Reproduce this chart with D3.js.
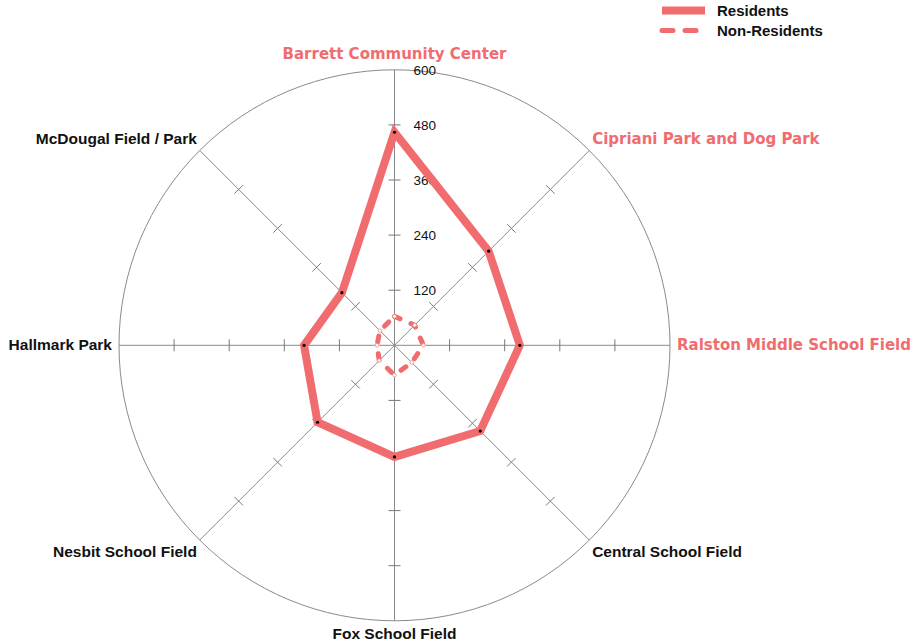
<!DOCTYPE html>
<html>
<head>
<meta charset="utf-8">
<script src="https://cdn.jsdelivr.net/npm/d3@7"></script>
<style>
  body { margin: 0; background: #fff; }
</style>
</head>
<body>
<script>
// #Data
const parks = ['Barrett Community Center', 'Cipriani Park and Dog Park', 'Ralston Middle School Field',
               'Central School Field', 'Fox School Field', 'Nesbit School Field', 'Hallmark Park',
               'McDougal Field / Park'];
const highlighted = ['Barrett Community Center', 'Cipriani Park and Dog Park', 'Ralston Middle School Field'];
const residents = [464, 290, 273, 264, 243, 237, 197, 162];
const nonResidents = [63, 62, 63, 53, 65, 47, 38, 45];
const tickValues = [120, 240, 360, 480, 600];
const seriesNames = ['Residents', 'Non-Residents'];

// #Define SVG
const width = 917, height = 644;
const cx = 394.5, cy = 345.3, R = 275.5;
const red = '#f06c6e';

const svg = d3.select('body')
              .append('svg')
              .attr('width', width)
              .attr('height', height);

const rScale = d3.scaleLinear().domain([0, 600]).range([0, R]);
const angle = d3.scaleLinear().domain([0, parks.length]).range([0, 2 * Math.PI]);

const px = (i, v) => cx + rScale(v) * Math.sin(angle(i));
const py = (i, v) => cy - rScale(v) * Math.cos(angle(i));

const g = svg.append('g');

// #Outer circle
g.append('circle')
 .attr('cx', cx).attr('cy', cy).attr('r', rScale(600))
 .attr('fill', 'none').attr('stroke', '#8a8a8a').attr('stroke-width', 1);

// #Axes
g.selectAll('.axis')
 .data(parks)
 .enter()
 .append('line')
 .attr('class', 'axis')
 .attr('x1', cx).attr('y1', cy)
 .attr('x2', (d, i) => px(i, 600))
 .attr('y2', (d, i) => py(i, 600))
 .attr('stroke', '#8a8a8a').attr('stroke-width', 1);

// #Tick marks across each axis
const tickPairs = [];
parks.forEach((p, i) => tickValues.slice(0, -1).forEach(t => tickPairs.push({i, t})));
g.selectAll('.tick')
 .data(tickPairs)
 .enter()
 .append('line')
 .attr('class', 'tick')
 .attr('x1', d => px(d.i, d.t) - 6 * Math.cos(angle(d.i)))
 .attr('y1', d => py(d.i, d.t) - 6 * Math.sin(angle(d.i)))
 .attr('x2', d => px(d.i, d.t) + 6 * Math.cos(angle(d.i)))
 .attr('y2', d => py(d.i, d.t) + 6 * Math.sin(angle(d.i)))
 .attr('stroke', '#777').attr('stroke-width', 1);

// #Tick labels on the vertical axis
g.selectAll('.tlabel')
 .data(tickValues)
 .enter()
 .append('text')
 .attr('x', cx + 19)
 .attr('y', d => py(0, d))
 .attr('dy', '0.35em')
 .style('font-family', 'Liberation Sans, Arial, sans-serif')
 .style('font-size', '13.5px')
 .style('fill', '#111')
 .text(d => d);

// #Series
const line = (vals) => d3.line()
                         .x((d, i) => px(i, d))
                         .y((d, i) => py(i, d))
                         .curve(d3.curveLinearClosed)(vals);

g.append('path')
 .attr('d', line(residents))
 .attr('fill', 'none')
 .attr('stroke', red)
 .attr('stroke-width', 8)
 .attr('stroke-linejoin', 'miter');

g.append('path')
 .attr('d', line(nonResidents))
 .attr('fill', 'none')
 .attr('stroke', red)
 .attr('stroke-width', 5)
 .attr('stroke-linecap', 'round')
 .attr('stroke-dasharray', '6,12');

g.selectAll('.rdot')
 .data(residents)
 .enter()
 .append('circle')
 .attr('cx', (d, i) => px(i, d)).attr('cy', (d, i) => py(i, d))
 .attr('r', 1.6).attr('fill', '#000');

g.selectAll('.ndot')
 .data(nonResidents)
 .enter()
 .append('circle')
 .attr('cx', (d, i) => px(i, d)).attr('cy', (d, i) => py(i, d))
 .attr('r', 1.8).attr('fill', '#fff').attr('stroke', '#e89090').attr('stroke-width', 0.8);

// #Axis labels
const labelR = R + 4;
g.selectAll('.plabel')
 .data(parks)
 .enter()
 .append('text')
 .attr('class', 'plabel')
 .attr('x', (d, i) => {
     const s = Math.sin(angle(i));
     return cx + labelR * s + (Math.abs(Math.cos(angle(i))) < 0.1 ? (s > 0 ? 3 : -3) : 0);
 })
 .attr('y', (d, i) => cy - labelR * Math.cos(angle(i)))
 .attr('dy', (d, i) => {
     const c = Math.cos(angle(i));
     return c > 0.9 ? -7 : c > 0.1 ? -4 : (c < -0.1 ? 14 : 5);
 })
 .attr('text-anchor', (d, i) => {
     const s = Math.sin(angle(i));
     return s > 0.1 ? 'start' : (s < -0.1 ? 'end' : 'middle');
 })
 .style('font-family', d => highlighted.includes(d) ? 'DejaVu Sans, Verdana, sans-serif' : 'Liberation Sans, Arial, sans-serif')
 .style('font-size', d => highlighted.includes(d) ? '15px' : '15.5px')
 .style('font-weight', 'bold')
 .style('fill', d => highlighted.includes(d) ? red : '#111')
 .text(d => d);

// #Legend
const legend = svg.append('g').attr('transform', 'translate(662,0)');
legend.append('line')
      .attr('x1', 0).attr('x2', 43).attr('y1', 10.5).attr('y2', 10.5)
      .attr('stroke', red).attr('stroke-width', 8);
legend.append('line')
      .attr('x1', 0).attr('x2', 34).attr('y1', 30.5).attr('y2', 30.5)
      .attr('stroke', red).attr('stroke-width', 5)
      .attr('stroke-linecap', 'round')
      .attr('stroke-dasharray', '11,12');
legend.selectAll('text')
      .data(seriesNames)
      .enter()
      .append('text')
      .attr('x', 55)
      .attr('y', (d, i) => 10.5 + i * 20)
      .attr('dy', '0.35em')
      .style('font-family', 'Liberation Sans, Arial, sans-serif')
      .style('font-size', '15px')
      .style('font-weight', 'bold')
      .style('fill', '#111')
      .text(d => d);
</script>
</body>
</html>
